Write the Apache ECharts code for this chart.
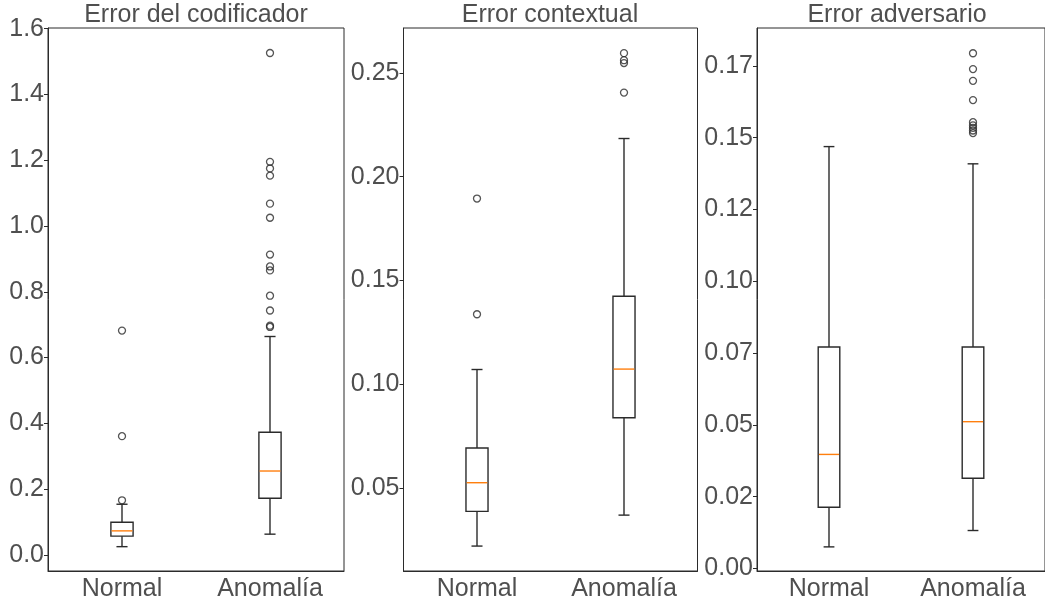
<!DOCTYPE html>
<html>
<head>
<meta charset="utf-8">
<script src="https://cdn.jsdelivr.net/npm/echarts@6/dist/echarts.min.js"></script>
<style>
  html, body { margin: 0; padding: 0; background: #fff; }
  #chart { width: 1045px; height: 603px; }
</style>
</head>
<body>
<div id="chart"></div>
<script>
var categories = ['Normal', 'Anomalía']
var titles = ['Error del codificador', 'Error contextual', 'Error adversario']

// cajas: [bigote inf, Q1, mediana, Q3, bigote sup] para Normal y Anomalía
var codBoxes = [[0.025, 0.057, 0.073, 0.099, 0.154], [0.063, 0.172, 0.255, 0.373, 0.664]]
var codOutNormal = [0.166, 0.361, 0.682]
var codOutAnom = [0.693, 0.697, 0.743, 0.788, 0.865, 0.877, 0.913, 1.025, 1.068, 1.153, 1.175, 1.195, 1.526]

var ctxBoxes = [[0.0222, 0.0389, 0.0527, 0.0694, 0.1072], [0.0371, 0.0840, 0.1074, 0.1425, 0.2184]]
var ctxOutNormal = [0.1338, 0.1895]
var ctxOutAnom = [0.2405, 0.2547, 0.2561, 0.2595]

var advBoxes = [[0.0075, 0.0213, 0.0397, 0.0771, 0.1469], [0.0132, 0.0314, 0.0511, 0.0771, 0.1409]]
var advOutNormal = []
var advOutAnom = [0.1516, 0.1525, 0.1534, 0.1543, 0.1554, 0.1631, 0.1698, 0.1739, 0.1794]

// ticks del eje y
var codTicks = [0, 0.2, 0.4, 0.6, 0.8, 1.0, 1.2, 1.4, 1.6]
var ctxTicks = [0.05, 0.10, 0.15, 0.20, 0.25]
var advTicks = [0, 0.025, 0.05, 0.075, 0.1, 0.125, 0.15, 0.175]
var advTickLabels = ['0.00', '0.02', '0.05', '0.07', '0.10', '0.12', '0.15', '0.17']

var FONT = 'Liberation Sans, Arial, sans-serif'
var TEXT = '#4f4f4f'
var LINE = '#2b2b2b'

var panels = [
    { boxes: codBoxes, outN: codOutNormal, outA: codOutAnom, ticks: codTicks, min: -0.049, max: 1.602,
        fmt: function(v) { return v.toFixed(1) }, left: 48, width: 296, titleX: 196 },
    { boxes: ctxBoxes, outN: ctxOutNormal, outA: ctxOutAnom, ticks: ctxTicks, min: 0.0102, max: 0.2716,
        fmt: function(v) { return v.toFixed(2) }, left: 403.5, width: 294, titleX: 550 },
    { boxes: advBoxes, outN: advOutNormal, outA: advOutAnom, ticks: advTicks, min: -0.0009, max: 0.1882,
        fmt: function(v) { return advTickLabels[Math.round(v / 0.025)] }, left: 757, width: 295, titleX: 897 }
]

function renderBox(params, api) {
    var x = api.value(0)
    var lo = api.coord([x, api.value(1)])
    var q1 = api.coord([x, api.value(2)])
    var med = api.coord([x, api.value(3)])
    var q3 = api.coord([x, api.value(4)])
    var hi = api.coord([x, api.value(5)])
    var bw = api.size([1, 0])[0] * 0.15
    var cx = lo[0]
    var st = { stroke: LINE, lineWidth: 1.4, fill: null }
    return {
        type: 'group',
        children: [
            { type: 'line', shape: { x1: cx, y1: lo[1], x2: cx, y2: q1[1] }, style: st },
            { type: 'line', shape: { x1: cx, y1: q3[1], x2: cx, y2: hi[1] }, style: st },
            { type: 'line', shape: { x1: cx - bw / 4, y1: lo[1], x2: cx + bw / 4, y2: lo[1] }, style: st },
            { type: 'line', shape: { x1: cx - bw / 4, y1: hi[1], x2: cx + bw / 4, y2: hi[1] }, style: st },
            { type: 'rect', shape: { x: cx - bw / 2, y: q3[1], width: bw, height: q1[1] - q3[1] }, style: st },
            { type: 'line', shape: { x1: cx - bw / 2 + 0.7, y1: med[1], x2: cx + bw / 2 - 0.7, y2: med[1] },
                style: { stroke: '#ff7f0e', lineWidth: 1.4 } }
        ]
    }
}

var grid = []
var xAxis = []
var yAxis = []
var series = []
var title = []

panels.forEach(function(p, i) {
    grid.push({ left: p.left, top: 28, width: p.width, height: 543, show: true,
        borderColor: LINE, borderWidth: 1, containLabel: false })
    title.push({ text: titles[i], left: p.titleX, top: 3, textAlign: 'center', padding: 0,
        textStyle: { fontFamily: FONT, fontSize: 25, fontWeight: 'normal', color: TEXT } })
    xAxis.push({
        type: 'category', gridIndex: i, data: categories,
        axisLine: { onZero: false, lineStyle: { color: LINE, width: 1 } },
        axisTick: { alignWithLabel: true, length: 4, lineStyle: { color: LINE } },
        axisLabel: { fontFamily: FONT, fontSize: 25, color: TEXT, margin: 6 },
        splitLine: { show: false }
    })
    yAxis.push({
        type: 'value', gridIndex: i, min: p.min, max: p.max,
        axisLine: { show: true, onZero: false, lineStyle: { color: LINE, width: 1 } },
        axisTick: { show: true, length: 4, customValues: p.ticks, lineStyle: { color: LINE } },
        axisLabel: { customValues: p.ticks, formatter: p.fmt, fontFamily: FONT, fontSize: 25, color: TEXT, margin: 4 },
        splitLine: { show: false }
    })
    var boxData = p.boxes.map(function(b, k) { return [k].concat(b) })
    series.push({
        type: 'custom', xAxisIndex: i, yAxisIndex: i, renderItem: renderBox,
        encode: { x: 0, y: [1, 2, 3, 4, 5] }, data: boxData, silent: true
    })
    var outData = p.outN.map(function(v) { return [0, v] }).concat(p.outA.map(function(v) { return [1, v] }))
    series.push({
        type: 'scatter', xAxisIndex: i, yAxisIndex: i, data: outData, symbol: 'circle', symbolSize: 7,
        itemStyle: { color: 'rgba(0,0,0,0)', borderColor: LINE, borderWidth: 1.3 }, silent: true
    })
})

var chart = echarts.init(document.getElementById('chart'))
chart.setOption({
    animation: false,
    backgroundColor: '#fff',
    title: title,
    grid: grid,
    xAxis: xAxis,
    yAxis: yAxis,
    series: series
})
</script>
</body>
</html>
